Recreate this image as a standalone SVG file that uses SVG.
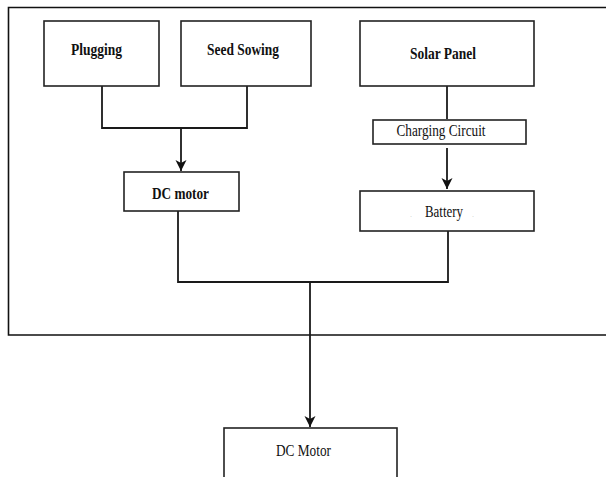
<svg xmlns="http://www.w3.org/2000/svg" width="606" height="477" viewBox="0 0 606 477">
<defs>
<marker id="ah" markerUnits="userSpaceOnUse" markerWidth="12" markerHeight="12" viewBox="0 0 12 12" refX="11" refY="6" orient="auto">
<path d="M0,0.5 L11,6 L0,11.5 L3,6 Z" fill="#111"/>
</marker>
<style>
.box{fill:#fff;stroke:#222;stroke-width:1.6}
.ln{fill:none;stroke:#1a1a1a;stroke-width:1.8}
.b{font-family:"Liberation Serif","Times New Roman",serif;font-weight:bold;font-size:16px;fill:#111;text-anchor:middle}
.r{font-family:"Liberation Serif","Times New Roman",serif;font-size:16px;fill:#111;text-anchor:middle}
.dot{font-family:"Liberation Serif","Times New Roman",serif;font-size:6px;fill:#bbb;text-anchor:middle}
</style>
</defs>
<rect width="606" height="477" fill="#fff"/>
<g id="frame">
<path d="M606,7.5 H8.5 V335 H606" fill="none" stroke="#111" stroke-width="1.6"/>
</g>
<g id="connectors">
<path class="ln" d="M102,86 V128 H247 V86"/>
<path class="ln" d="M181,128 V171" marker-end="url(#ah)"/>
<path class="ln" d="M447,86 V119"/>
<path class="ln" d="M447,148 V189" marker-end="url(#ah)"/>
<path class="ln" d="M178,211 V282 H448 V231"/>
<path class="ln" d="M310,282 V427" marker-end="url(#ah)"/>
</g>
<g id="plugging">
<rect class="box" x="44" y="21" width="115" height="65"/>
<text class="b" x="96.5" y="54.5" textLength="51" lengthAdjust="spacingAndGlyphs">Plugging</text>
</g>
<g id="seed-sowing">
<rect class="box" x="181" y="21" width="130" height="65"/>
<text class="b" x="243" y="54.5" textLength="72" lengthAdjust="spacingAndGlyphs">Seed Sowing</text>
</g>
<g id="solar-panel">
<rect class="box" x="360" y="21" width="174" height="65"/>
<text class="b" x="443" y="59" textLength="66" lengthAdjust="spacingAndGlyphs">Solar Panel</text>
</g>
<g id="charging-circuit">
<rect class="box" x="373" y="120" width="153" height="24" stroke-width="2.4"/>
<text class="r" x="441" y="135.5" textLength="89" lengthAdjust="spacingAndGlyphs">Charging Circuit</text>
</g>
<g id="dc-motor-top">
<rect class="box" x="124" y="172" width="115" height="39"/>
<text class="b" x="180.5" y="199" textLength="57" lengthAdjust="spacingAndGlyphs">DC motor</text>
</g>
<g id="battery">
<rect class="box" x="360" y="191" width="174" height="40"/>
<text class="r" x="444" y="216.5" textLength="38" lengthAdjust="spacingAndGlyphs">Battery</text>
<text class="dot" x="411" y="217">.</text>
<text class="dot" x="473" y="217">.</text>
</g>
<g id="dc-motor-bottom">
<rect class="box" x="224" y="428" width="173" height="60" stroke-width="2"/>
<text class="r" x="303.5" y="456" textLength="55" lengthAdjust="spacingAndGlyphs">DC Motor</text>
</g>
</svg>
